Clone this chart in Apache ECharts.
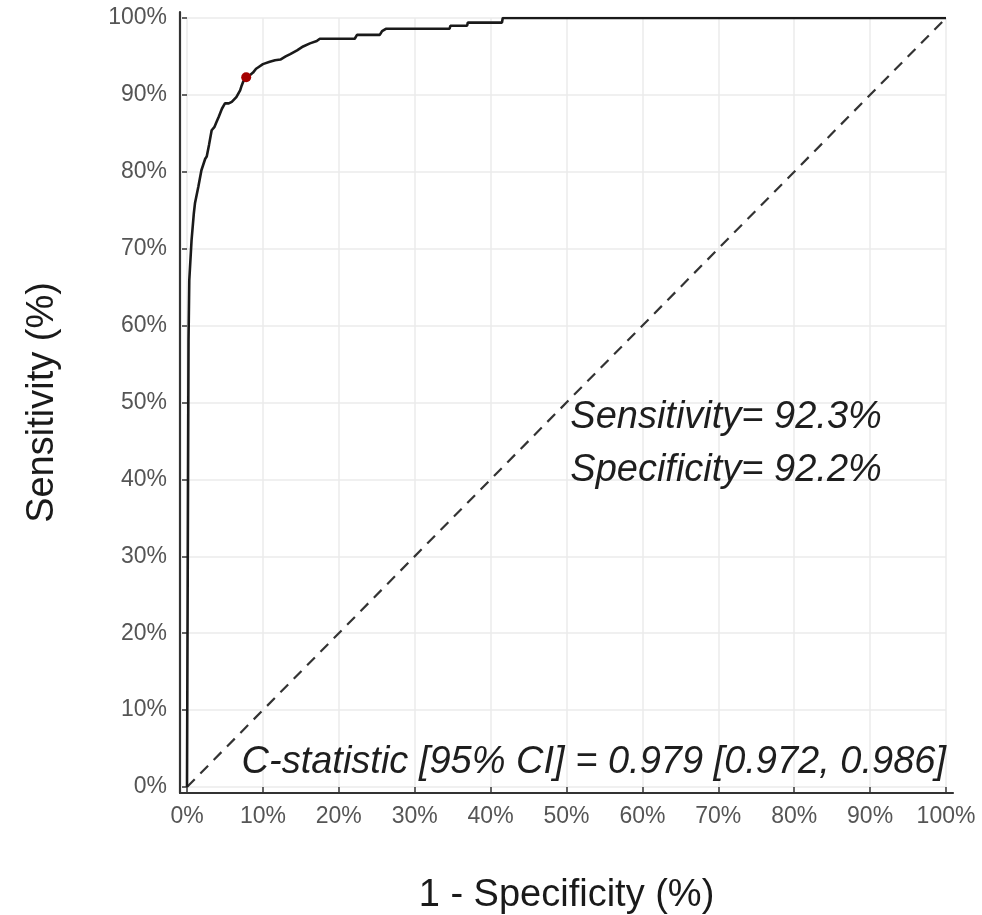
<!DOCTYPE html>
<html>
<head>
<meta charset="utf-8">
<script src="https://cdn.jsdelivr.net/npm/echarts@6/dist/echarts.min.js"></script>
<style>
html,body{margin:0;padding:0;background:#fff;}
#chart{width:982px;height:915px;}
</style>
</head>
<body>
<div id="chart"></div>
<script>
// ROC curve: 1 - specificity (fpr) and sensitivity (tpr)
const fpr = [0, 0.002, 0.002, 0.003, 0.006, 0.009, 0.0105, 0.015, 0.019, 0.024, 0.026, 0.029, 0.0325, 0.036, 0.039, 0.042, 0.046, 0.050, 0.055, 0.059, 0.065, 0.070, 0.072, 0.074, 0.078, 0.082, 0.087, 0.091, 0.094, 0.100, 0.109, 0.116, 0.123, 0.130, 0.136, 0.145, 0.153, 0.162, 0.171, 0.175, 0.200, 0.221, 0.224, 0.254, 0.257, 0.262, 0.346, 0.347, 0.369, 0.370, 0.415, 0.416, 1.0];
const tpr = [0, 0, 0.581, 0.659, 0.711, 0.746, 0.759, 0.781, 0.802, 0.817, 0.820, 0.835, 0.854, 0.858, 0.865, 0.872, 0.882, 0.889, 0.889, 0.891, 0.897, 0.906, 0.912, 0.917, 0.923, 0.925, 0.929, 0.934, 0.936, 0.940, 0.943, 0.945, 0.946, 0.950, 0.953, 0.958, 0.963, 0.967, 0.970, 0.973, 0.973, 0.973, 0.978, 0.978, 0.983, 0.986, 0.986, 0.990, 0.990, 0.994, 0.994, 1.0, 1.0];
const cutoffPoint = [0.078, 0.923];
const refLineX = [0, 1];
const refLineY = [0, 1];
const tickValues = [0, 0.1, 0.2, 0.3, 0.4, 0.5, 0.6, 0.7, 0.8, 0.9, 1.0];
const tickLabels = ["0%", "10%", "20%", "30%", "40%", "50%", "60%", "70%", "80%", "90%", "100%"];
const xTitle = "1 - Specificity (%)";
const yTitle = "Sensitivity (%)";
const annoSens = "Sensitivity= 92.3%";
const annoSpec = "Specificity= 92.2%";
const annoC = "C-statistic [95% CI] = 0.979 [0.972, 0.986]";

const FONT = "'Liberation Sans', Arial, Helvetica, sans-serif";
function fmt(v) {
  const i = tickValues.findIndex(t => Math.abs(t - v) < 1e-6);
  return i >= 0 ? tickLabels[i] : '';
}

const curve = fpr.map((x, i) => [x, tpr[i]]);
const diag = refLineX.map((x, i) => [x, refLineY[i]]);

const chart = echarts.init(document.getElementById('chart'), null, {renderer: 'canvas'});
const annoLabel = {show: true, position: [0, 0], verticalAlign: 'middle',
  fontSize: 38, fontStyle: 'italic', color: '#1e1e1e', fontFamily: FONT, opacity: 1};
const option = {
  animation: false,
  backgroundColor: '#ffffff',
  grid: [
    {left: 187, right: 36, top: 18, bottom: 128, containLabel: false, outerBoundsMode: 'none'},
    {left: 180, right: 29, top: 12, bottom: 122, containLabel: false, outerBoundsMode: 'none'}
  ],
  xAxis: [
    {
      gridIndex: 0, type: 'value', min: 0, max: 1, interval: 0.1, offset: 6,
      axisLine: {show: false},
      axisTick: {show: true, length: 5, lineStyle: {color: '#333', width: 1.5}},
      axisLabel: {formatter: fmt, margin: 12, fontSize: 23, color: '#555', fontFamily: FONT},
      splitLine: {show: true, lineStyle: {color: '#ebebeb', width: 1.5}},
      name: xTitle, nameLocation: 'middle', nameGap: 84,
      nameTextStyle: {fontSize: 38, color: '#1a1a1a', fontFamily: FONT}
    },
    {
      gridIndex: 1, type: 'value', min: 0, max: 1,
      axisLine: {show: true, lineStyle: {color: '#333', width: 2.2}},
      axisTick: {show: false}, axisLabel: {show: false}, splitLine: {show: false}
    }
  ],
  yAxis: [
    {
      gridIndex: 0, type: 'value', min: 0, max: 1, interval: 0.1, offset: 7,
      axisLine: {show: false},
      axisTick: {show: true, length: 5, lineStyle: {color: '#333', width: 1.5}},
      axisLabel: {formatter: fmt, margin: 13, fontSize: 23, color: '#555', fontFamily: FONT},
      splitLine: {show: true, lineStyle: {color: '#ebebeb', width: 1.5}},
      name: yTitle, nameLocation: 'middle', nameGap: 118, nameRotate: 90,
      nameTextStyle: {fontSize: 38, color: '#1a1a1a', fontFamily: FONT}
    },
    {
      gridIndex: 1, type: 'value', min: 0, max: 1,
      axisLine: {show: true, lineStyle: {color: '#333', width: 2.2}},
      axisTick: {show: false}, axisLabel: {show: false}, splitLine: {show: false}
    }
  ],
  series: [
    {
      type: 'line', xAxisIndex: 0, yAxisIndex: 0, data: diag,
      showSymbol: false, silent: true,
      lineStyle: {color: '#333', width: 2.2, type: [11, 8]}
    },
    {
      type: 'line', xAxisIndex: 0, yAxisIndex: 0, data: curve,
      showSymbol: false, silent: true,
      lineStyle: {color: '#1a1a1a', width: 2.6}
    },
    {
      type: 'scatter', xAxisIndex: 0, yAxisIndex: 0, data: [cutoffPoint],
      symbolSize: 10, itemStyle: {color: '#a50000', opacity: 1}, z: 5
    },
    {
      type: 'scatter', xAxisIndex: 0, yAxisIndex: 0, symbolSize: 0, silent: true,
      itemStyle: {opacity: 1},
      data: [
        {value: [0.505, 0.48], label: {formatter: annoSens}},
        {value: [0.505, 0.412], label: {formatter: annoSpec}}
      ],
      label: Object.assign({}, annoLabel, {align: 'left'})
    },
    {
      type: 'scatter', xAxisIndex: 0, yAxisIndex: 0, symbolSize: 0, silent: true,
      itemStyle: {opacity: 1},
      data: [{value: [1.0, 0.0325], label: {formatter: annoC}}],
      label: Object.assign({}, annoLabel, {align: 'right'})
    }
  ]
};
chart.setOption(option);
</script>
</body>
</html>
